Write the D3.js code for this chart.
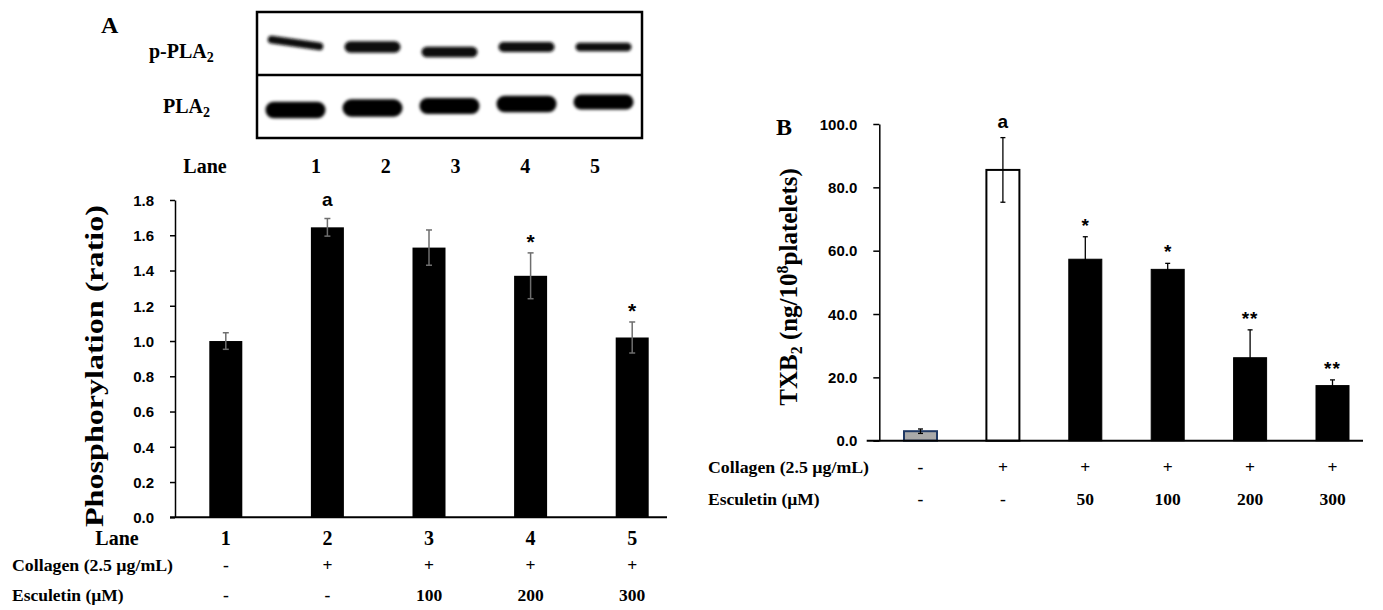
<!DOCTYPE html>
<html>
<head>
<meta charset="utf-8">
<script src="https://cdn.jsdelivr.net/npm/d3@7"></script>
<style>
  body { margin: 0; background: #fff; }
  svg { display: block; }
</style>
</head>
<body>
<svg id="chart" width="1383" height="610"></svg>
<script>
// ---- panel A data (PLA2 phosphorylation) ----
const lanes = ['1', '2', '3', '4', '5'];
const phosRatio = [1.0, 1.645, 1.53, 1.37, 1.02];
const phosErr = [0.047, 0.05, 0.1, 0.13, 0.088];
const phosMarks = ['', 'a', '', '*', '*'];
const collagenA = ['-', '+', '+', '+', '+'];
const esculetinA = ['-', '-', '100', '200', '300'];
const phosTicks = [0, 0.2, 0.4, 0.6, 0.8, 1.0, 1.2, 1.4, 1.6, 1.8];

// western blot band thickness (signal strength) per lane
const pBand = [8, 11.6, 10.7, 10, 8.3];
const pla2Band = [16.7, 17.3, 16, 16.7, 15];

// ---- panel B data (TXB2) ----
const groups = ['g1', 'g2', 'g3', 'g4', 'g5', 'g6'];
const txbValues = [3.0, 85.5, 57.3, 54.1, 26.2, 17.4];
const txbErr = [0.7, 10.2, 7.1, 1.9, 8.8, 1.8];
const txbMarks = ['', 'a', '*', '*', '**', '**'];
const collagenB = ['-', '+', '+', '+', '+', '+'];
const esculetinB = ['-', '-', '50', '100', '200', '300'];
const txbTicks = [0, 20, 40, 60, 80, 100];

const serif = '"Liberation Serif", "Times New Roman", serif';
const sans = '"Liberation Sans", Arial, sans-serif';

const svg = d3.select('#chart');
svg.append('rect').attr('width', 1383).attr('height', 610).attr('fill', '#fff');

const defs = svg.append('defs');
defs.append('filter').attr('id', 'blur')
  .attr('x', '-20%').attr('y', '-60%').attr('width', '140%').attr('height', '220%')
  .append('feGaussianBlur').attr('stdDeviation', 1.5);

// ================= panel A : blot =================
const blot = svg.append('g');
blot.append('text').attr('x', 101).attr('y', 33)
  .attr('font-family', serif).attr('font-weight', 'bold').attr('font-size', 24).text('A');

const blotX = d3.scaleBand().domain(lanes).range([257, 642]);

blot.append('rect').attr('x', 257).attr('y', 12).attr('width', 385).attr('height', 126)
  .attr('fill', '#fff').attr('stroke', '#000').attr('stroke-width', 2.5);
blot.append('line').attr('x1', 257).attr('x2', 642).attr('y1', 75).attr('y2', 75)
  .attr('stroke', '#000').attr('stroke-width', 2.5);

const bands = blot.append('g').attr('filter', 'url(#blur)');
bands.selectAll('rect.p')
  .data(pBand)
  .join('rect')
  .attr('class', 'p')
  .attr('x', (d, i) => blotX(lanes[i]) + blotX.bandwidth() / 2 - 28)
  .attr('y', (d, i) => (i === 2 ? 52 : 47) - d / 2)
  .attr('width', 56)
  .attr('height', (d) => d)
  .attr('rx', (d) => d / 2)
  .attr('fill', '#111')
  .attr('transform', (d, i) => {
    const cx = blotX(lanes[i]) + blotX.bandwidth() / 2;
    return i === 0 ? `rotate(8, ${cx}, 43) translate(0,-4)` : null;
  });

bands.selectAll('rect.t')
  .data(pla2Band)
  .join('rect')
  .attr('class', 't')
  .attr('x', (d, i) => blotX(lanes[i]) + blotX.bandwidth() / 2 - 30)
  .attr('y', (d, i) => 110 - i * 2 - d / 2)
  .attr('width', 60)
  .attr('height', (d) => d)
  .attr('rx', (d) => d / 2)
  .attr('fill', '#000');

const pLabel = blot.append('text').attr('x', 149).attr('y', 58)
  .attr('font-family', serif).attr('font-weight', 'bold').attr('font-size', 20);
pLabel.append('tspan').text('p-PLA');
pLabel.append('tspan').attr('font-size', 14).attr('dy', 4).text('2');

const tLabel = blot.append('text').attr('x', 163).attr('y', 113)
  .attr('font-family', serif).attr('font-weight', 'bold').attr('font-size', 20);
tLabel.append('tspan').text('PLA');
tLabel.append('tspan').attr('font-size', 14).attr('dy', 4).text('2');

const blotLaneX = d3.scalePoint().domain(lanes).range([316, 595]);
blot.append('text').attr('x', 205).attr('y', 173).attr('text-anchor', 'middle')
  .attr('font-family', serif).attr('font-weight', 'bold').attr('font-size', 20).text('Lane');
blot.selectAll('text.lane')
  .data(lanes)
  .join('text')
  .attr('class', 'lane')
  .attr('x', (d) => blotLaneX(d))
  .attr('y', 173)
  .attr('text-anchor', 'middle')
  .attr('font-family', serif).attr('font-weight', 'bold').attr('font-size', 20)
  .text((d) => d);

// ================= panel A : bar chart =================
const xA = d3.scalePoint().domain(lanes).range([175, 683]).padding(0.5);
const yA = d3.scaleLinear().domain([0, 1.8]).range([517.3, 200]);
const barW = 33;

const gA = svg.append('g');
gA.append('g')
  .attr('transform', 'translate(175,0)')
  .call(d3.axisLeft(yA).tickValues(phosTicks).tickFormat(d3.format('.1f'))
    .tickSize(5).tickSizeOuter(0).tickPadding(16))
  .call((g) => {
    g.select('.domain').attr('stroke', '#000').attr('stroke-width', 1.5);
    g.selectAll('.tick line').attr('stroke', '#000').attr('stroke-width', 1.5);
    g.selectAll('.tick text').attr('font-family', sans).attr('font-weight', 'bold')
      .attr('font-size', 15).attr('fill', '#000').attr('dy', '0.35em');
  });

gA.selectAll('rect.bar')
  .data(phosRatio)
  .join('rect')
  .attr('class', 'bar')
  .attr('x', (d, i) => xA(lanes[i]) - barW / 2)
  .attr('y', (d) => yA(d))
  .attr('width', barW)
  .attr('height', (d) => yA(0) - yA(d))
  .attr('fill', '#000');

const errA = gA.append('g').attr('stroke', '#6e6e6e').attr('stroke-width', 1.5);
phosRatio.forEach((v, i) => {
  const cx = xA(lanes[i]);
  const lo = yA(v - phosErr[i]);
  const hi = yA(v + phosErr[i]);
  errA.append('line').attr('x1', cx).attr('x2', cx).attr('y1', lo).attr('y2', hi);
  errA.append('line').attr('x1', cx - 3).attr('x2', cx + 3).attr('y1', lo).attr('y2', lo);
  errA.append('line').attr('x1', cx - 3).attr('x2', cx + 3).attr('y1', hi).attr('y2', hi);
});

gA.append('line').attr('x1', 170).attr('x2', 667).attr('y1', yA(0)).attr('y2', yA(0))
  .attr('stroke', '#000').attr('stroke-width', 2);

gA.selectAll('text.mark')
  .data(phosMarks)
  .join('text')
  .attr('class', 'mark')
  .attr('x', (d, i) => xA(lanes[i]))
  .attr('y', (d, i) => yA(phosRatio[i] + phosErr[i]) - (d === 'a' ? 13 : 4))
  .attr('text-anchor', 'middle')
  .attr('font-family', sans).attr('font-weight', 'bold')
  .attr('font-size', (d) => (d === 'a' ? 19 : 21))
  .text((d) => d);

gA.append('text')
  .attr('transform', 'translate(103,366) rotate(-90)')
  .attr('text-anchor', 'middle')
  .attr('font-family', serif).attr('font-weight', 'bold').attr('font-size', 25)
  .attr('textLength', 322).attr('lengthAdjust', 'spacingAndGlyphs')
  .text('Phosphorylation (ratio)');

// rows under panel A
gA.append('text').attr('x', 117).attr('y', 545).attr('text-anchor', 'middle')
  .attr('font-family', serif).attr('font-weight', 'bold').attr('font-size', 20).text('Lane');
gA.selectAll('text.lnum')
  .data(lanes)
  .join('text')
  .attr('class', 'lnum')
  .attr('x', (d) => xA(d))
  .attr('y', 545)
  .attr('text-anchor', 'middle')
  .attr('font-family', serif).attr('font-weight', 'bold').attr('font-size', 20)
  .text((d) => d);

function conditionRows(g, xs, keys, rowY, colRow, escRow, labelX) {
  g.append('text').attr('x', labelX).attr('y', rowY[0])
    .attr('font-family', serif).attr('font-weight', 'bold').attr('font-size', 17.5)
    .attr('textLength', 161).attr('lengthAdjust', 'spacingAndGlyphs')
    .text('Collagen (2.5 \u00b5g/mL)');
  g.append('text').attr('x', labelX).attr('y', rowY[1])
    .attr('font-family', serif).attr('font-weight', 'bold').attr('font-size', 17.5)
    .text('Esculetin (\u00b5M)');
  [colRow, escRow].forEach((row, r) => {
    g.selectAll(null)
      .data(row)
      .join('text')
      .attr('x', (d, i) => xs(keys[i]))
      .attr('y', rowY[r])
      .attr('text-anchor', 'middle')
      .attr('font-family', serif).attr('font-weight', 'bold').attr('font-size', 17.5)
      .text((d) => d);
  });
}
conditionRows(gA, xA, lanes, [571, 601], collagenA, esculetinA, 12);

// ================= panel B =================
const xB = d3.scalePoint().domain(groups).range([879.3, 1373.7]).padding(0.5);
const yB = d3.scaleLinear().domain([0, 100]).range([440.7, 124]);

const gB = svg.append('g');
gB.append('text').attr('x', 776).attr('y', 135)
  .attr('font-family', serif).attr('font-weight', 'bold').attr('font-size', 24).text('B');

gB.append('g')
  .attr('transform', 'translate(879.3,0)')
  .call(d3.axisLeft(yB).tickValues(txbTicks).tickFormat(d3.format('.1f'))
    .tickSize(6).tickSizeOuter(0).tickPadding(16))
  .call((g) => {
    g.select('.domain').attr('stroke', '#000').attr('stroke-width', 1.5);
    g.selectAll('.tick line').attr('stroke', '#000').attr('stroke-width', 1.5);
    g.selectAll('.tick text').attr('font-family', sans).attr('font-weight', 'bold')
      .attr('font-size', 15).attr('fill', '#000').attr('dy', '0.35em');
  });

const fillB = (i) => (i === 0 ? '#a9a9a9' : i === 1 ? '#fff' : '#000');
const strokeB = (i) => (i === 0 ? '#1f3864' : '#000');

gB.selectAll('rect.bar')
  .data(txbValues)
  .join('rect')
  .attr('class', 'bar')
  .attr('x', (d, i) => xB(groups[i]) - barW / 2)
  .attr('y', (d) => yB(d))
  .attr('width', barW)
  .attr('height', (d) => yB(0) - yB(d))
  .attr('fill', (d, i) => fillB(i))
  .attr('stroke', (d, i) => strokeB(i))
  .attr('stroke-width', (d, i) => (i < 2 ? 2 : 1));

const errB = gB.append('g').attr('stroke', '#000').attr('stroke-width', 1.3);
txbValues.forEach((v, i) => {
  const cx = xB(groups[i]);
  const lo = yB(v - txbErr[i]);
  const hi = yB(v + txbErr[i]);
  errB.append('line').attr('x1', cx).attr('x2', cx).attr('y1', lo).attr('y2', hi);
  errB.append('line').attr('x1', cx - 2.5).attr('x2', cx + 2.5).attr('y1', hi).attr('y2', hi);
  if (i < 2) {
    errB.append('line').attr('x1', cx - 2.5).attr('x2', cx + 2.5).attr('y1', lo).attr('y2', lo);
  }
});

gB.append('line').attr('x1', 866.7).attr('x2', 1363).attr('y1', yB(0)).attr('y2', yB(0))
  .attr('stroke', '#000').attr('stroke-width', 2);

gB.selectAll('text.mark')
  .data(txbMarks)
  .join('text')
  .attr('class', 'mark')
  .attr('x', (d, i) => xB(groups[i]))
  .attr('y', (d, i) => yB(txbValues[i] + txbErr[i]) - (d === 'a' ? 10 : 5))
  .attr('text-anchor', 'middle')
  .attr('font-family', sans).attr('font-weight', 'bold')
  .attr('font-size', (d) => (d === 'a' ? 19 : 19))
  .attr('letter-spacing', (d) => (d === '**' ? 1 : 0))
  .text((d) => d);

const yLabB = gB.append('text')
  .attr('transform', 'translate(797,287) rotate(-90)')
  .attr('text-anchor', 'middle')
  .attr('font-family', serif).attr('font-weight', 'bold').attr('font-size', 25);
yLabB.append('tspan').text('TXB');
yLabB.append('tspan').attr('font-size', 16).attr('dy', 5).text('2');
yLabB.append('tspan').attr('dy', -5).text(' (ng/10');
yLabB.append('tspan').attr('font-size', 16).attr('dy', -9).text('8');
yLabB.append('tspan').attr('dy', 9).text('platelets)');

conditionRows(gB, xB, groups, [473, 505], collagenB, esculetinB, 708);
</script>
</body>
</html>
